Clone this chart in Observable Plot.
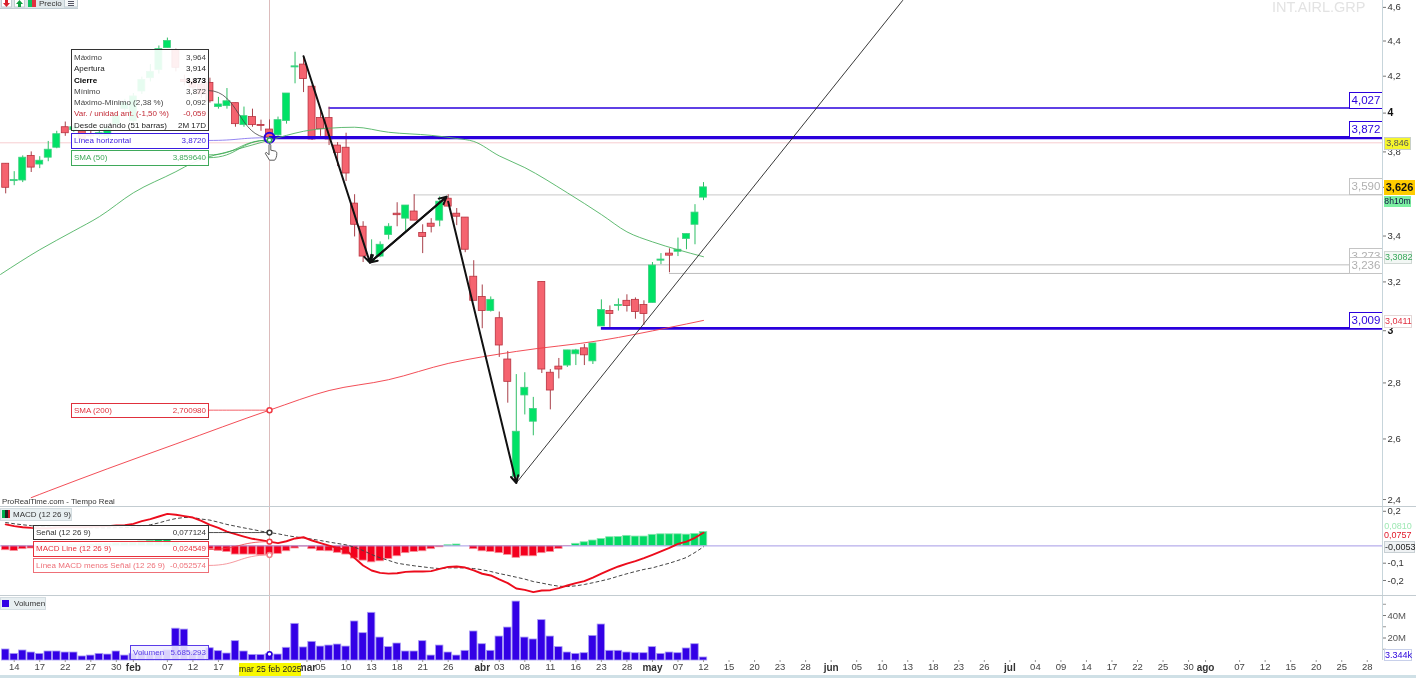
<!DOCTYPE html>
<html><head><meta charset="utf-8">
<style>
html,body{margin:0;padding:0;background:#fff;overflow:hidden}
#chart{position:relative;width:1416px;height:678px;font-family:"Liberation Sans",Arial,sans-serif;overflow:hidden;background:#fff;filter:blur(.3px)}
#chart>div,#chart>svg{position:absolute}
.row{display:flex;justify-content:space-between;padding:0 2px;height:11.25px;line-height:11.25px;font-size:8px;white-space:nowrap}
</style>
<script src="https://cdn.jsdelivr.net/npm/d3@7"></script>
<script src="https://cdn.jsdelivr.net/npm/@observablehq/plot@0.6"></script>
</head><body><div id="chart"></div>
<script>
const opens=[3.741,3.656,3.659,3.78,3.737,3.771,3.821,3.926,3.911,3.905,3.89,3.884,3.879,3.942,4.021,3.958,4.116,4.189,4.235,4.359,4.347,4.179,4.168,4.153,4.163,4.032,4.037,4.053,3.937,3.979,3.938,3.914,3.884,3.958,4.249,4.265,4.142,3.974,3.974,3.832,3.821,3.549,3.442,3.287,3.309,3.405,3.502,3.479,3.512,3.414,3.456,3.47,3.572,3.502,3.484,3.222,3.137,3.079,3.05,2.888,2.473,2.754,2.66,3.2,2.838,2.861,2.865,2.908,2.931,2.881,3.017,3.079,3.1,3.121,3.125,3.104,3.112,3.291,3.322,3.33,3.387,3.451,3.577];
const highs=[3.741,3.702,3.78,3.8,3.776,3.853,3.905,3.953,3.937,3.926,3.911,3.916,3.932,4.0,4.074,4.105,4.195,4.265,4.371,4.417,4.353,4.206,4.189,4.168,4.189,4.084,4.132,4.053,4.032,4.021,3.963,3.964,3.979,4.105,4.335,4.312,4.147,4.011,4.032,3.847,3.895,3.591,3.465,3.383,3.374,3.456,3.553,3.54,3.591,3.451,3.479,3.581,3.591,3.526,3.484,3.291,3.187,3.137,3.075,2.919,2.831,2.838,2.747,3.2,2.85,2.892,2.923,2.927,2.946,2.95,3.125,3.1,3.129,3.146,3.133,3.121,3.283,3.322,3.343,3.391,3.409,3.544,3.649];
const lows=[3.595,3.634,3.649,3.698,3.717,3.751,3.816,3.879,3.9,3.847,3.863,3.868,3.863,3.926,4.011,3.947,4.1,4.168,4.212,4.359,4.224,4.147,4.116,4.079,4.053,4.021,4.021,3.926,3.926,3.926,3.905,3.872,3.879,3.942,4.158,4.11,3.858,3.879,3.832,3.727,3.654,3.396,3.283,3.287,3.304,3.383,3.442,3.419,3.47,3.322,3.414,3.442,3.535,3.447,3.326,3.121,3.008,3.075,2.896,2.726,2.453,2.684,2.611,2.835,2.702,2.815,2.858,2.865,2.865,2.869,3.017,3.013,3.079,3.075,3.046,3.021,3.112,3.274,3.239,3.309,3.339,3.361,3.563];
const closes=[3.624,3.661,3.771,3.722,3.756,3.811,3.89,3.895,3.926,3.863,3.879,3.895,3.916,3.984,4.053,4.089,4.179,4.224,4.353,4.4,4.247,4.168,4.137,4.1,4.063,4.046,4.063,3.942,3.984,3.937,3.933,3.873,3.963,4.105,4.255,4.184,3.863,3.916,3.863,3.795,3.693,3.451,3.309,3.296,3.361,3.442,3.495,3.54,3.47,3.396,3.442,3.558,3.535,3.488,3.339,3.121,3.079,3.125,2.942,2.804,2.625,2.782,2.705,2.85,2.772,2.85,2.923,2.923,2.904,2.95,3.083,3.067,3.104,3.1,3.075,3.067,3.27,3.296,3.313,3.339,3.409,3.507,3.626];
const volumes=[9.8,5.9,8.9,7.1,5.9,8,8,7.1,7.1,3.6,4.4,5.9,5.3,8,4.4,6,7,6,7,9,28.3,27.5,8,7,10.9,8.3,6.2,17.2,8,5,5,5.685,5.3,11.3,32.6,11.6,16.6,12.4,13.3,14.2,12.4,34.7,24.3,42.4,20.4,11.9,15.1,8,8,17.2,4.4,13.3,7.1,4.4,8.6,25.8,14.5,8.6,21.3,29.3,52.4,20.4,18.7,35.9,21.3,11.9,7.1,5.9,6.5,21.9,32,8.6,8.6,7.1,6.5,6.5,11.9,5.9,7.1,6.5,10.7,14.5,2.7];
const histogram=[-.025,-.029,-.019,-.015,-.01,-.005,-.002,.002,.004,.006,.008,.01,.012,.015,.018,.02,.025,.03,.037,.037,.02,.008,.002,-.008,-.02,-.029,-.035,-.05,-.05,-.05,-.054,-.0526,-.046,-.031,-.015,-.004,-.019,-.029,-.031,-.04,-.05,-.073,-.085,-.095,-.089,-.075,-.06,-.042,-.035,-.031,-.019,-.008,.004,.008,0,-.019,-.031,-.035,-.042,-.052,-.069,-.06,-.06,-.042,-.035,-.017,-.001,.012,.021,.031,.04,.05,.052,.058,.054,.054,.064,.067,.067,.067,.065,.069,.081];
const macdLine=[.124,.114,.108,.104,.102,.102,.106,.108,.108,.108,.11,.112,.114,.118,.12,.127,.143,.155,.17,.185,.18,.172,.164,.145,.122,.104,.083,.068,.054,.041,.033,.0245,.016,.027,.043,.05,.031,.016,.002,-.013,-.023,-.07,-.113,-.142,-.156,-.16,-.158,-.15,-.148,-.148,-.146,-.133,-.121,-.119,-.125,-.142,-.161,-.171,-.194,-.215,-.246,-.254,-.267,-.258,-.256,-.244,-.229,-.215,-.204,-.183,-.16,-.138,-.119,-.102,-.088,-.071,-.052,-.032,-.011,.012,.025,.047,.0757];
const signalLine=[.135,.128,.122,.117,.112,.109,.108,.107,.106,.105,.104,.104,.104,.105,.106,.107,.113,.122,.133,.147,.158,.164,.164,.155,.149,.137,.124,.114,.104,.095,.085,.0771,.07,.06,.052,.047,.039,.031,.022,.014,.006,-.008,-.027,-.05,-.069,-.084,-.1,-.108,-.115,-.121,-.127,-.131,-.127,-.127,-.127,-.131,-.138,-.148,-.16,-.17,-.181,-.192,-.206,-.215,-.225,-.233,-.235,-.231,-.223,-.213,-.202,-.19,-.175,-.161,-.148,-.136,-.127,-.113,-.1,-.084,-.067,-.038,-.0053];
const sma50Bars=[-.6,4,8,11,15,20,22,27,31,33,35,38,41,45,50,53,55,58,61,66,70,73,76,79,82];
const sma50=[3.232,3.339,3.423,3.488,3.6,3.702,3.746,3.811,3.85964,3.884,3.905,3.921,3.926,3.9,3.884,3.868,3.853,3.78,3.722,3.6,3.498,3.419,3.374,3.339,3.3082];
const sma200Bars=[3,5,12,20,31,38,45,52,60,70,78,82];
const sma200=[2.406,2.427,2.5,2.583,2.70098,2.772,2.812,2.873,2.919,2.962,3.013,3.0411];
const levelValues=[4.027,3.872,3.59,3.273,3.236,3.009];
const levelLabels=["4,027","3,872","3,590","3,273","3,236","3,009"];
const levelStarts=[38,31,48,43,78,70];
const levelColors=["#2a00dc","#2a00dc","#c8c8c8","#bdbdbd","#bdbdbd","#2a00dc"];
const levelWidths=[1.5,3.2,1,1,1,2.8];
const priceTicks=[2.4,2.6,2.8,3.2,3.4,3.8,4.2,4.4,4.6];
const priceBoldTicks=[3,4];
const priceLabelOnlyTicks=[3.626];
const macdTicks=[.2,-.1,-.2];
const volumeTicks=[20,40];
const volumeMinorTicks=[10,30,50];
const dayBars=[1,4,7,10,13,19,22,25,37,40,43,46,49,52,58,61,64,67,70,73,79,82,85,88,91,94,100,103,106,109,112,115,121,124,127,130,133,136,139,145,148,151,154,157,160];
const dayLabels=["14","17","22","27","30","07","12","17","05","10","13","18","21","26","03","08","11","16","23","28","07","12","15","20","23","28","05","10","13","18","23","26","04","09","14","17","22","25","30","07","12","15","20","25","28"];
const monthBars=[15,35.4,56,76,97,118,141];
const monthLabels=["feb","mar","abr","may","jun","jul","ago"];
const cursorBar=31;
const trendBars=[60,105.4], trendValues=[2.453,4.642];
const arrowFromBars=[35,42.8,52], arrowFromValues=[4.312,3.283,3.558];
const arrowToBars=[42.8,51.8,60], arrowToValues=[3.283,3.581,2.453];
const tooltipEdge=23.8;

const bars=opens.map((o,i)=>({i,o,h:highs[i],l:lows[i],c:closes[i],v:volumes[i],hist:histogram[i],m:macdLine[i],s:signalLine[i],up:closes[i]>=o}));
const zip=(xs,ys)=>xs.map((x,k)=>({x,y:ys[k]}));
const levels=levelValues.map((v,k)=>({v,label:levelLabels[k],start:levelStarts[k],color:levelColors[k],w:levelWidths[k]}));
const comma=d=>String(d).replace(".",",");
const root=document.getElementById("chart");
const xScale={domain:[-0.611,161.79],axis:null};
const base={width:1416,marginLeft:0,marginRight:34,marginTop:0,style:{background:"transparent",fontFamily:"Liberation Sans, Arial, sans-serif",overflow:"visible"}};
const AX="#c7d5db", BW=.41;
function place(svg,top){svg.style.left="0px";svg.style.top=top+"px";root.appendChild(svg);return svg}
function rail(h){return Plot.ruleX([161.79],{y1:h[0],y2:h[1],stroke:AX})}

const priceY={type:"log",domain:[2.378,4.642],axis:null};
const arrows=arrowFromBars.map((x,k)=>({x1:x,y1:arrowFromValues[k],x2:arrowToBars[k],y2:arrowToValues[k]}));
const link=(a,b,c,d,o)=>Plot.link([{a,b,c,d}],{x1:"a",y1:"b",x2:"c",y2:"d",curve:"bump-x",...o});
const price=Plot.plot({...base,height:506,marginBottom:0,x:xScale,y:priceY,marks:[
  rail(priceY.domain),
  Plot.ruleY([3.846],{stroke:"#f7cdd0"}),
  Plot.ruleX([cursorBar],{stroke:"#dcbcbc"}),
  Plot.ruleY(levels.filter(d=>d.w<2),{y:"v",x1:"start",x2:161.79,stroke:"color",strokeWidth:"w"}),
  Plot.ruleX(bars.filter(d=>d.up),{x:"i",y1:"l",y2:"h",stroke:"#2fbf66"}),
  Plot.ruleX(bars.filter(d=>!d.up),{x:"i",y1:"l",y2:"h",stroke:"#a8404a"}),
  Plot.rect(bars.filter(d=>d.up),{x1:d=>d.i-BW,x2:d=>d.i+BW,y1:"o",y2:"c",fill:"#00e266",stroke:"#3fcf80",strokeWidth:.8}),
  Plot.rect(bars.filter(d=>!d.up),{x1:d=>d.i-BW,x2:d=>d.i+BW,y1:"o",y2:"c",fill:"#f5636f",stroke:"#b8323f",strokeWidth:.8}),
  Plot.ruleY(levels.filter(d=>d.w>=2),{y:"v",x1:"start",x2:161.79,stroke:"color",strokeWidth:"w"}),
  Plot.line(zip(sma50Bars,sma50),{x:"x",y:"y",stroke:"#4fb363",strokeWidth:.9,curve:"monotone-x"}),
  Plot.line(zip(sma200Bars,sma200),{x:"x",y:"y",stroke:"#f03a44",strokeWidth:.9,curve:"monotone-x"}),
  Plot.line(zip(trendBars,trendValues),{x:"x",y:"y",stroke:"#222",strokeWidth:.9}),
  Plot.arrow(arrows,{x1:"x1",y1:"y1",x2:"x2",y2:"y2",bend:0,stroke:"#111",strokeWidth:2,headLength:6,headAngle:55}),
  Plot.arrow(arrows.slice(1,2),{x1:"x2",y1:"y2",x2:"x1",y2:"y1",bend:0,stroke:"#111",strokeWidth:2,headLength:6,headAngle:55}),
  link(tooltipEdge,4.121,cursorBar,3.872,{stroke:"#444",strokeWidth:.8}),
  link(tooltipEdge,3.858,cursorBar,3.872,{stroke:"#7a66ee",strokeWidth:.8}),
  link(tooltipEdge,3.785,cursorBar,3.8596,{stroke:"#3aa84f",strokeWidth:.8}),
  link(tooltipEdge,3.771,cursorBar,3.8596,{stroke:"#3aa84f",strokeWidth:.8}),
  link(tooltipEdge,2.70098,cursorBar,2.70098,{stroke:"#f03a44",strokeWidth:.8}),
  Plot.dot([2.70098],{x:()=>cursorBar,y:d=>d,r:2.5,fill:"#fff",stroke:"#f03a44"}),
  Plot.dot([3.872],{x:()=>cursorBar,y:d=>d,r:5,fill:"none",stroke:"#2a00dc",strokeWidth:2}),
  Plot.dot([3.8596],{x:()=>cursorBar,y:d=>d,r:2.2,fill:"#fff",stroke:"#3aa84f"}),
  Plot.axisY({anchor:"right",ticks:priceTicks,tickFormat:comma,tickSize:3,tickPadding:2,fontSize:9.5,stroke:"#777",color:"#333",label:null}),
  Plot.axisY({anchor:"right",ticks:priceLabelOnlyTicks,tickFormat:()=>"",tickSize:3,stroke:"#777",label:null}),
  Plot.axisY({anchor:"right",ticks:priceBoldTicks,tickFormat:comma,tickSize:3,tickPadding:2,fontSize:10.5,fontWeight:"bold",stroke:"#777",color:"#111",label:null})
]});
place(price,0);

const macdY={domain:[-.2867,.2277],axis:null};
const macd=Plot.plot({...base,height:89,marginBottom:0,x:xScale,y:macdY,marks:[
  rail(macdY.domain),
  Plot.ruleX([cursorBar],{stroke:"#dcbcbc"}),
  Plot.rect(bars.filter(d=>d.hist>=0),{x1:d=>d.i-BW-.03,x2:d=>d.i+BW+.03,y1:0,y2:"hist",fill:"#00d964",stroke:"#86e6ae",strokeWidth:.8}),
  Plot.rect(bars.filter(d=>d.hist<0),{x1:d=>d.i-BW-.03,x2:d=>d.i+BW+.03,y1:0,y2:"hist",fill:"#f4001e",stroke:"#f78e98",strokeWidth:.8}),
  Plot.ruleY([0],{stroke:"#a59ae6"}),
  Plot.line(bars,{x:"i",y:"s",stroke:"#444",strokeWidth:1,strokeDasharray:"3,3"}),
  Plot.line(bars,{x:"i",y:"m",stroke:"#ec0c1c",strokeWidth:1.9}),
  link(tooltipEdge,.0771,cursorBar,.0771,{stroke:"#222",strokeWidth:.8}),
  link(tooltipEdge,-.021,cursorBar,.0245,{stroke:"#f03a44",strokeWidth:.8}),
  link(tooltipEdge,-.113,cursorBar,-.0526,{stroke:"#f28088",strokeWidth:.8}),
  Plot.dot([.0771],{x:()=>cursorBar,y:d=>d,r:2.4,fill:"#fff",stroke:"#333"}),
  Plot.dot([.0245],{x:()=>cursorBar,y:d=>d,r:2.4,fill:"#fff",stroke:"#f03a44"}),
  Plot.dot([-.0526],{x:()=>cursorBar,y:d=>d,r:2.4,fill:"#fff",stroke:"#f28088"}),
  Plot.axisY({anchor:"right",ticks:macdTicks,tickFormat:comma,tickSize:3,tickPadding:2,fontSize:9.5,stroke:"#777",color:"#333",label:null})
]});
place(macd,506);

const volY={domain:[0,57.8],axis:null};
const volume=Plot.plot({...base,height:83,marginBottom:18,x:xScale,y:volY,marks:[
  rail(volY.domain),
  Plot.ruleX([cursorBar],{stroke:"#dcbcbc"}),
  Plot.rect(bars,{x1:d=>d.i-BW-.03,x2:d=>d.i+BW+.03,y1:0,y2:"v",fill:"#3300e6",stroke:"#a99cf5",strokeWidth:.8}),
  Plot.dot([5.685],{x:()=>cursorBar,y:d=>d,r:2.4,fill:"#fff",stroke:"#2a00dc"}),
  Plot.axisY({anchor:"right",ticks:volumeTicks,tickFormat:d=>d+"M",tickSize:3,tickPadding:2,fontSize:9.5,stroke:"#777",color:"#555",label:null}),
  Plot.axisY({anchor:"right",ticks:volumeMinorTicks,tickFormat:()=>"",tickSize:3,stroke:"#999",label:null}),
  Plot.axisX({anchor:"bottom",ticks:dayBars,tickFormat:i=>dayLabels[dayBars.indexOf(i)],tickSize:2,tickPadding:1,fontSize:9.5,stroke:"#999",color:"#444",label:null}),
  Plot.axisX({anchor:"bottom",ticks:monthBars,tickFormat:i=>monthLabels[monthBars.indexOf(i)],tickSize:2,tickPadding:1,fontSize:10,fontWeight:"bold",stroke:"#999",color:"#333",label:null})
]});
place(volume,595);

function box(l,t,w,h,css,html){const d=document.createElement("div");d.style.cssText=`left:${l}px;top:${t}px;width:${w}px;height:${h}px;box-sizing:border-box;white-space:nowrap;${css||""}`;d.innerHTML=html||"";root.appendChild(d);return d}
const py=v=>price.scale("y").apply(v);

// pane separators and window strip
box(0,506,1416,1,"background:#c3ccd1");
box(0,595,1416,1,"background:#c3ccd1");
box(0,675,1416,3,"background:#cfe0e6");

// level tags on the right edge
levels.forEach(d=>{const y=py(d.v);
  const col=d.color==="#2a00dc"?"#2a00dc":"#b0b0b0", bd=d.color==="#2a00dc"?"#2a00dc":"#c4c4c4";
  box(1349,y-16,33,17,`background:#fff;border:1px solid ${bd};border-right:none;color:${col};font-size:11.5px;line-height:15px;text-align:center`,d.label)});

// value tags on the right axis
const tag=(t,h,bg,fg,txt,extra,l,w)=>box(l||1384,t,w||27,h,`background:${bg};color:${fg};font-size:9px;line-height:${h}px;text-align:center;${extra||""}`,txt);
tag(137,13,"#f6f62c","#555","3,846","border:1px solid #c8d0c8;line-height:11px");
tag(180,15,"#ffcc00","#111","3,626","font-weight:bold;font-size:11px",1384,31);
tag(196,11,"#7cf0a2","#114","8h10m","font-size:8.6px",1384,27);
tag(251,13,"#f2f7f4","#37a85a","3,3082","border:1px solid #d0d8d4;line-height:11px",1384,28);
tag(315,13,"#fff","#e03040","3,0411","border:1px solid #e4d8d8;line-height:11px",1384,28);
tag(522,8,"#fff","#9fe8b4","0,0810","",1384,28);
tag(530,11,"#fff","#e01828","0,0757","",1384,27);
tag(541,12,"#eef1f3","#222","-0,0053","border:1px solid #c8d0d4;line-height:10px",1384,31);
tag(649,12,"#fff","#2a00dc","3.344k","border:1px solid #c8d0ea;line-height:10px",1384,28);

// crosshair date tag on the axis
box(239,663,62,13,"background:#f8f800;color:#222;font-size:8.6px;line-height:13px;text-align:center","mar 25 feb 2025");

// tooltip
const rows=[["Máximo","3,964","#444",""],["Apertura","3,914","#222",""],["Cierre","3,873","#000","font-weight:bold;"],["Mínimo","3,872","#444",""],["Máximo-Mínimo (2,38 %)","0,092","#444",""],["Var. / unidad ant. (-1,50 %)","-0,059","#c22a36",""],["Desde cuándo (51 barras)","2M 17D","#222",""]];
box(71,49,138,82,"background:rgba(255,255,255,.9);border:1px solid #333;padding:2px 0",rows.map(r=>`<div class="row" style="color:${r[2]};${r[3]}"><span>${r[0]}</span><span>${r[1]}</span></div>`).join(""));
const legendBox=(l,t,w,h,col,a,b,bg)=>box(l,t,w,h,`background:${bg||"rgba(255,255,255,.92)"};border:1px solid ${col};color:${col};font-size:8px;line-height:${h-2}px;display:flex;justify-content:space-between;padding:0 2px`,`<span>${a}</span><span>${b}</span>`);
legendBox(71,133,138,16,"#3a1be0","Línea horizontal","3,8720");
legendBox(71,150,138,16,"#3fa95a","SMA (50)","3,859640");
legendBox(71,403,138,15,"#e0303c","SMA (200)","2,700980");
legendBox(33,525,176,15,"#333","Señal (12 26 9)","0,077124");
legendBox(33,541,176,16,"#e8303c","MACD Line (12 26 9)","0,024549");
legendBox(33,558,176,15,"#ee7078","Línea MACD menos Señal (12 26 9)","-0,052574");
legendBox(130,645,79,15,"#5a3ce8","Volumen","5.685.293","rgba(240,238,255,.88)");

// pane titles
box(2,497,130,9,"font-size:7.8px;line-height:9px;color:#333","ProRealTime.com - Tiempo Real");
box(0,508,72,13,"background:#e8eff1;border:1px solid #d4dde1;font-size:8px;line-height:11px;color:#333;padding-left:12px","MACD (12 26 9)");
box(2,510,3,8,"background:#00b050");box(5,510,3,8,"background:#222");box(8,510,2,8,"background:#d01828");
box(0,597,46,13,"background:#e8eff1;border:1px solid #d4dde1;font-size:8px;line-height:11px;color:#333;padding-left:13px","Volumen");
box(2,600,7,7,"background:#3300e6");

// watermark
box(1272,0,104,16,"font-size:14.5px;line-height:15px;color:#e3e3e3","INT.AIRL.GRP");

// top-left toolbar, clipped by the window
box(0,0,78,9,"background:#dfe7ea;overflow:hidden;border-bottom:1px solid #c0ccd2;font-size:8px;line-height:8px;color:#333",
 `<svg style="position:absolute;left:1px;top:0" width="11" height="8"><rect x=".5" y="-2" width="10" height="9" fill="#fff" stroke="#c0ccd2"/><path d="M4 0h3v3h2L5.500 7 2 3h2z" fill="#d8202c"/></svg>
  <svg style="position:absolute;left:14px;top:0" width="11" height="8"><rect x=".5" y="-2" width="10" height="9" fill="#fff" stroke="#c0ccd2"/><path d="M5.500 0L9 4H7v3H4V4H2z" fill="#10a040"/></svg>
  <span style="position:absolute;left:28px;top:0;width:4px;height:7px;background:#10c060"></span><span style="position:absolute;left:32px;top:0;width:4px;height:7px;background:#e03040"></span>
  <span style="position:absolute;left:39px;top:0">Precio</span>
  <svg style="position:absolute;left:64px;top:0" width="14" height="8"><rect x=".5" y="-2" width="13" height="9" fill="#f4f7f8" stroke="#c0ccd2"/><path d="M4 1.500h6M4 3.500h6M4 5.500h6" stroke="#445" stroke-width=".9"/></svg>`);

// hand cursor
box(264,143,15,18,"",`<svg width="15" height="18" viewBox="0 0 15 18"><path d="M5 1.5c.8-.8 1.8-.3 1.8.7v5l4 .8c1.6.3 2 1.2 2 2.6 0 2.8-.8 5-2.2 6.6H5.500C4.500 15.200 2.500 12.500 1.500 10.800c-.5-.9.6-1.800 1.500-1l2 2z" fill="#fff" stroke="#333" stroke-width=".8"/></svg>`);
</script></body></html>
